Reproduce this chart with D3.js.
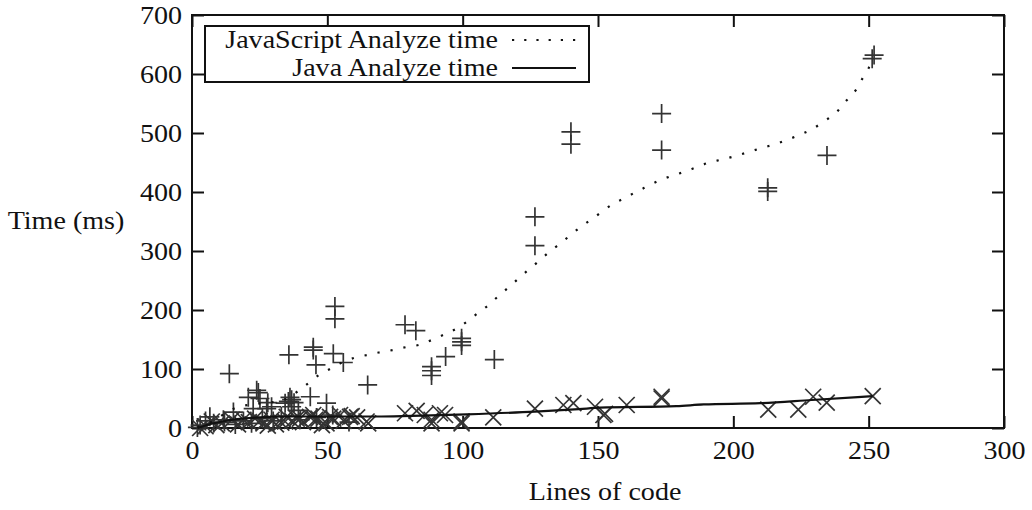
<!DOCTYPE html>
<html>
<head>
<meta charset="utf-8">
<script src="https://cdn.jsdelivr.net/npm/d3@7"></script>
<style>
  html, body { margin: 0; padding: 0; background: #fff; }
  svg text { font-family: "Liberation Serif", "Times New Roman", serif; fill: #111; }
</style>
</head>
<body>
<svg id="chart" width="1032" height="510"></svg>
<script>
// Axis ticks
const xTicks = [0, 50, 100, 150, 200, 250, 300];
const yTicks = [0, 100, 200, 300, 400, 500, 600, 700];

// JavaScript analyze time per file: lines of code / milliseconds
const jsLoc = [251.3, 252, 173.5, 173.5, 212.7, 212.7, 234.6, 140, 140, 126.7, 126.7, 111.7,
  99.6, 99.6, 99.6, 93.7, 88.5, 88.5, 88.5, 82.7, 78.7, 64.9, 55.9, 52.2, 52.8, 52.8,
  45.8, 44.8, 44.8, 43.7, 49.7, 35.8, 13.8, 23.9, 24.5, 20.8, 25.1, 28, 22.6, 27.6, 29.4,
  36.2, 36.8, 34.4, 36.8, 39.3, 35.6, 37.7, 6.6, 15.3, 11.6, 3, 8, 12, 16, 19, 22, 26, 30,
  33, 40, 46, 52, 58, 2, 5];
const jsMs = [626, 632, 533, 471, 407, 401, 462, 502, 481, 358, 309, 116,
  152, 146, 140, 121, 104, 97, 89, 165, 175, 73, 111, 126, 206, 185,
  107, 137, 132, 53, 42, 124, 92, 64, 60, 52, 50, 43, 33, 33, 36,
  52, 48, 42, 36, 30, 45, 43, 19, 27, 14, 5, 8, 10, 6, 12, 8, 16, 12,
  20, 14, 18, 22, 10, 1, 12];

// Java analyze time per file: lines of code / milliseconds
const javaLoc = [251.5, 229.5, 234.5, 224, 212.9, 173.5, 173.5, 160.6, 152.6, 152, 148.9, 140.9,
  137.2, 126.7, 111.3, 99.6, 99.6, 93.5, 91.6, 88.5, 88.5, 86, 83, 78.7, 65.1, 64.5, 59,
  58.4, 54.7, 52.2, 51, 49.7, 46.7, 45.5, 44.8, 43.6, 39.9, 38.7, 35, 34.4, 29.4, 26.4,
  23.3, 19, 14.7, 11, 7.3, 3, 5, 9, 17, 21, 25, 28, 31, 33, 37, 41, 48, 56, 61];
const javaMs = [54, 53, 43, 31, 31, 50, 53, 39, 24, 22, 36, 42,
  39, 33, 18, 11, 8, 22, 25, 14, 8, 22, 29, 25, 8, 11, 20,
  19, 22, 16, 19, 8, 16, 14, 22, 19, 16, 16, 19, 11, 14, 8,
  16, 14, 14, 8, 11, 0, 3, 5, 6, 10, 12, 4, 6, 9, 12, 10, 5, 12, 18];

// Smoothed trend of the JavaScript times
const jsTrendLoc = [2, 8, 12, 16, 22, 30, 35, 39, 43, 47, 51, 55, 60, 65, 69, 74, 79, 84, 88.5, 93,
  97.5, 101.5, 105.4, 109.2, 112.8, 116.6, 120.3, 123.5, 127.4, 131.4, 134.7, 138.8, 141.4,
  145.2, 148.3, 152.2, 155.6, 160, 164, 168.4, 172.4, 177, 181.8, 186.4, 191.1, 195.8, 200.8,
  205.8, 210.7, 215.5, 220.2, 224.6, 229.3, 233.5, 237.9, 241.2, 245.3, 247.9, 250.2, 251.6];
const jsTrendMs = [2, 12, 24, 34, 40, 44, 50, 62, 76, 90, 100, 110, 119, 124, 128, 132, 137, 141, 149, 158,
  168, 180, 194, 207, 222, 237, 252, 265, 280, 296, 308, 323, 333,
  346, 356, 369, 380, 390, 400, 410, 419, 427, 434, 442, 450, 455, 461,
  468, 475, 481, 489, 497, 507, 520, 534, 552, 573, 594, 612, 630];

// Smoothed trend of the Java times
const javaTrendLoc = [2, 8, 15, 25, 35, 50, 70, 85, 101.5, 126.7, 143, 150.7, 179, 189, 210, 229, 251.5];
const javaTrendMs = [0, 8, 14, 18, 19.5, 19.5, 19.5, 21, 23.2, 27.7, 32, 34.4, 37, 40, 42, 47.5, 54];

const FONT = 26;
const STRETCH = 1.08;

const svg = d3.select("#chart");
const x = d3.scaleLinear().domain([0, 300]).range([192, 1004]);
const y = d3.scaleLinear().domain([0, 700]).range([428, 15]);

function stretchText(sel) {
  sel.each(function () {
    const t = d3.select(this);
    const tx = +t.attr("x") || 0;
    const ty = +t.attr("y") || 0;
    t.attr("x", 0).attr("y", 0)
     .attr("transform", `translate(${tx},${ty}) scale(${STRETCH},1)`);
  });
}

// Axes with inward ticks
const gx = svg.append("g").attr("transform", `translate(0,${y(0)})`)
  .call(d3.axisBottom(x).tickValues(xTicks).tickSize(-12).tickPadding(13).tickFormat(d3.format("d")));
const gy = svg.append("g").attr("transform", `translate(${x(0)},0)`)
  .call(d3.axisLeft(y).tickValues(yTicks).tickSize(-12).tickPadding(10).tickFormat(d3.format("d")));
const gxTop = svg.append("g").attr("transform", `translate(0,${y(700)})`)
  .call(d3.axisTop(x).tickValues(xTicks).tickSize(-12).tickFormat(""));
const gyRight = svg.append("g").attr("transform", `translate(${x(300)},0)`)
  .call(d3.axisRight(y).tickValues(yTicks).tickSize(-12).tickFormat(""));

[gx, gy, gxTop, gyRight].forEach(g => {
  g.select(".domain").remove();
  g.selectAll(".tick line").attr("stroke", "#111").attr("stroke-width", 2);
  g.selectAll("text").attr("font-size", FONT).attr("fill", "#111");
});
stretchText(gx.selectAll("text"));
stretchText(gy.selectAll("text"));

// Plot frame
svg.append("rect")
  .attr("x", x(0)).attr("y", y(700))
  .attr("width", x(300) - x(0)).attr("height", y(0) - y(700))
  .attr("fill", "none").attr("stroke", "#111").attr("stroke-width", 2);

// Axis titles
svg.append("text").attr("x", 605).attr("y", 500).attr("text-anchor", "middle")
  .attr("font-size", FONT).text("Lines of code").call(stretchText);
svg.append("text").attr("x", 66).attr("y", 229).attr("text-anchor", "middle")
  .attr("font-size", FONT).text("Time (ms)").call(stretchText);

// Markers
const plusPath = h => `M${-h},0H${h}M0,${-h}V${h}`;
const crossPath = h => `M${-h},${-h}L${h},${h}M${-h},${h}L${h},${-h}`;

svg.append("g").selectAll("path")
  .data(d3.range(jsLoc.length))
  .join("path")
  .attr("d", plusPath(9.5))
  .attr("transform", i => `translate(${x(jsLoc[i])},${y(jsMs[i])})`)
  .attr("stroke", "#333").attr("stroke-width", 1.7).attr("fill", "none");

svg.append("g").selectAll("path")
  .data(d3.range(javaLoc.length))
  .join("path")
  .attr("d", crossPath(8))
  .attr("transform", i => `translate(${x(javaLoc[i])},${y(javaMs[i])})`)
  .attr("stroke", "#333").attr("stroke-width", 1.7).attr("fill", "none");

// Trend lines
const line = d3.line().curve(d3.curveMonotoneX);
svg.append("path")
  .attr("d", line(jsTrendLoc.map((v, i) => [x(v), y(jsTrendMs[i])])))
  .attr("fill", "none").attr("stroke", "#111").attr("stroke-width", 2.2)
  .attr("stroke-dasharray", "2.2,11");
svg.append("path")
  .attr("d", line(javaTrendLoc.map((v, i) => [x(v), y(javaTrendMs[i])])))
  .attr("fill", "none").attr("stroke", "#111").attr("stroke-width", 2.2);

// Legend
const legend = svg.append("g");
legend.append("rect").attr("x", 205).attr("y", 26).attr("width", 384).attr("height", 56)
  .attr("fill", "#fff").attr("stroke", "#111").attr("stroke-width", 2);
const legendItems = ["JavaScript Analyze time", "Java Analyze time"];
const legendDash = ["2.2,10", null];
legendItems.forEach((label, i) => {
  const cy = 40 + i * 28;
  legend.append("text").attr("x", 498).attr("y", cy + 8).attr("text-anchor", "end")
    .attr("font-size", FONT).text(label).call(stretchText);
  const ln = legend.append("line").attr("x1", 512).attr("x2", 576).attr("y1", cy).attr("y2", cy)
    .attr("stroke", "#111").attr("stroke-width", 2.2);
  if (legendDash[i]) ln.attr("stroke-dasharray", legendDash[i]);
});
</script>
</body>
</html>
